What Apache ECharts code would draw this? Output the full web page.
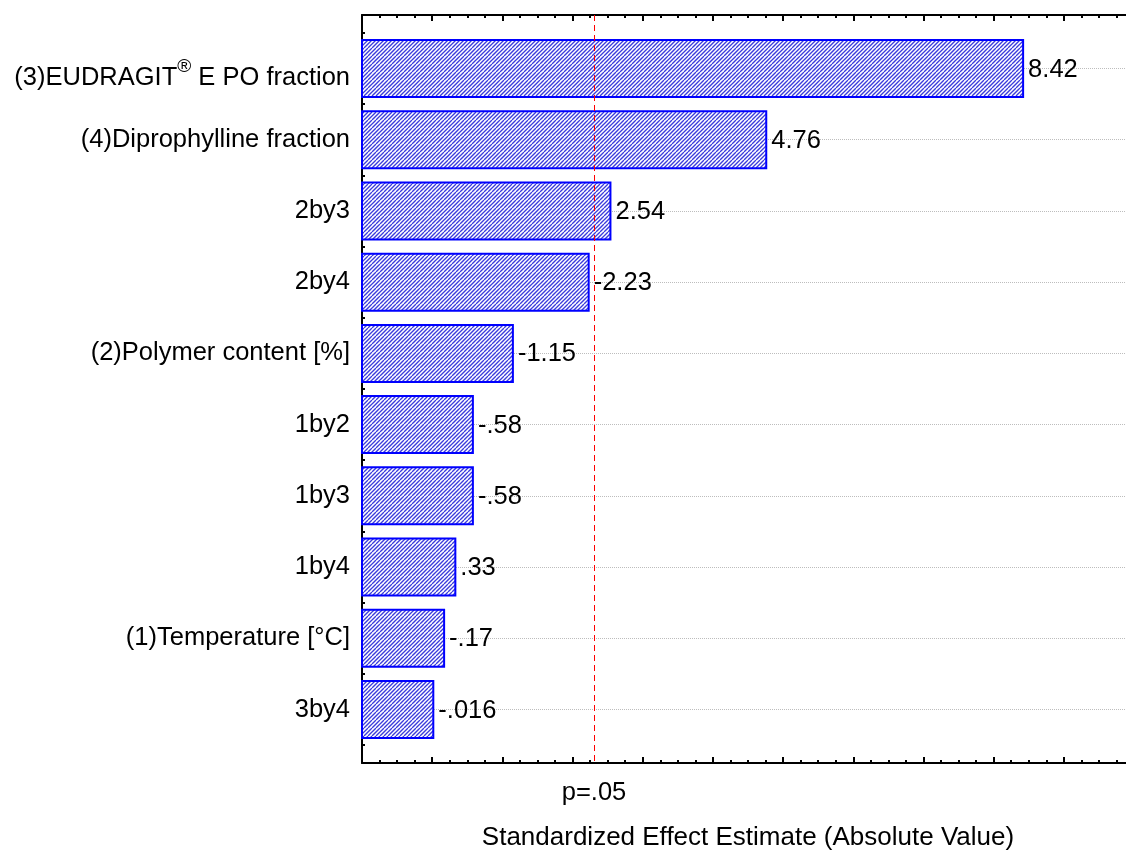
<!DOCTYPE html>
<html>
<head>
<meta charset="utf-8">
<script src="https://cdn.jsdelivr.net/npm/echarts@6/dist/echarts.min.js"></script>
<style>html,body{margin:0;padding:0;background:#fff;overflow:hidden}#c{width:1134px;height:852px}</style>
</head>
<body>
<div id="c"></div>
<script>
// ---- data ----
const CATEGORIES = [
  '(3)EUDRAGIT® E PO fraction',
  '(4)Diprophylline fraction',
  '2by3',
  '2by4',
  '(2)Polymer content [%]',
  '1by2',
  '1by3',
  '1by4',
  '(1)Temperature [°C]',
  '3by4'
];
const EFFECTS = [8.42, 4.76, 2.54, -2.23, -1.15, -0.58, -0.58, 0.33, -0.17, -0.016];
const P_CRIT = 2.306;
const P_LABEL = 'p=.05';
const X_NAME = 'Standardized Effect Estimate (Absolute Value)';

// ---- styles ----
const FONT = '"Liberation Sans", Arial, sans-serif';
const FS = 25.5;
const X_MIN = -1, X_MAX = 10;

function fmt(v) {
  let s = String(Math.abs(v));
  if (s.indexOf('0.') === 0) s = s.slice(1);
  return (v < 0 ? '-' : '') + s;
}

// hatch pattern
const pc = document.createElement('canvas');
pc.width = 8; pc.height = 8;
const g = pc.getContext('2d');
g.fillStyle = '#ffffff'; g.fillRect(0, 0, 8, 8);
g.strokeStyle = '#3b3bdc'; g.lineWidth = 1.3;
for (let k = -8; k <= 16; k += 4) {
  g.beginPath(); g.moveTo(k, 8); g.lineTo(k + 8, 0); g.stroke();
}
const pattern = { image: pc, repeat: 'repeat' };

const barData = CATEGORIES.map((c, i) => [Math.abs(EFFECTS[i]), i, EFFECTS[i]]);

function renderItem(params, api) {
  const v = api.value(0), idx = api.value(1), raw = api.value(2);
  const p0 = api.coord([X_MIN, idx]);
  const p1 = api.coord([v, idx]);
  const h = api.size([0, 1])[1] * 0.8;
  return {
    type: 'group',
    children: [
      { type: 'rect', shape: { x: p0[0], y: p0[1] - h / 2, width: p1[0] - p0[0], height: h },
        style: { fill: pattern, stroke: '#0000ff', lineWidth: 2 } },
      { type: 'text', style: { text: fmt(raw), x: p1[0] + 5, y: p1[1] + 1, verticalAlign: 'middle', align: 'left',
        fill: '#000', font: FS + 'px ' + FONT } }
    ]
  };
}

const axisLineStyle = { color: '#000', width: 2 };

const chart = echarts.init(document.getElementById('c'), null, { renderer: 'canvas' });
chart.setOption({
  animation: false,
  backgroundColor: '#fff',
  grid: [
    { left: 362, top: 15, right: 0, bottom: 89, containLabel: false, outerBoundsMode: 'none' },
    { left: 362, top: 68.5, right: 0, bottom: 142.5, containLabel: false, outerBoundsMode: 'none' }
  ],
  xAxis: [
    { gridIndex: 0, type: 'value', position: 'bottom', min: X_MIN, max: X_MAX, interval: 1,
      axisLine: { show: true, onZero: false, lineStyle: axisLineStyle },
      axisTick: { show: true, inside: true, length: 6, lineStyle: { color: '#000', width: 2 } },
      minorTick: { show: true, splitNumber: 4, length: 3, lineStyle: { color: '#000', width: 2 } },
      splitLine: { show: false },
      axisLabel: { show: true, customValues: [P_CRIT], formatter: () => P_LABEL, margin: 17,
        fontSize: FS, fontFamily: FONT, color: '#000' },
      name: X_NAME, nameLocation: 'middle', nameGap: 62,
      nameTextStyle: { fontSize: 26, fontFamily: FONT, color: '#000' } },
    { gridIndex: 0, type: 'value', position: 'top', min: X_MIN, max: X_MAX, interval: 1,
      axisLine: { show: true, onZero: false, lineStyle: axisLineStyle },
      axisTick: { show: true, inside: true, length: 6, lineStyle: { color: '#000', width: 2 } },
      minorTick: { show: true, splitNumber: 4, length: 3, lineStyle: { color: '#000', width: 2 } },
      splitLine: { show: false }, axisLabel: { show: false } },
    { gridIndex: 1, type: 'value', min: X_MIN, max: X_MAX, show: false }
  ],
  yAxis: [
    { gridIndex: 0, type: 'value', inverse: true, min: -0.75, max: 9.75, interval: 0.25,
      axisLine: { show: true, onZero: false, lineStyle: axisLineStyle },
      axisTick: { show: true, inside: true, length: 3, lineStyle: { color: '#000', width: 2 } },
      splitLine: { show: false }, axisLabel: { show: false } },
    { gridIndex: 1, type: 'category', inverse: true, boundaryGap: false, data: CATEGORIES,
      axisLine: { show: false, onZero: false },
      axisTick: { show: true, inside: true, length: 6, lineStyle: { color: '#000', width: 2 } },
      splitLine: { show: true, lineStyle: { color: '#bdbdbd', type: 'dotted', width: 1 } },
      axisLabel: {
        margin: 12, fontSize: FS, fontFamily: FONT, color: '#000',
        formatter: function (val) {
          if (val.indexOf('®') >= 0) {
            const parts = val.split('®');
            return '{a|' + parts[0] + '}{s|®}{a|' + parts[1] + '}';
          }
          return val;
        },
        rich: {
          a: { fontSize: FS, fontFamily: FONT, color: '#000', verticalAlign: 'bottom', padding: [18, 0, 0, 0] },
          s: { fontSize: 19, fontFamily: FONT, color: '#000', verticalAlign: 'bottom', padding: [0, 0, 14, 0] }
        }
      } }
  ],
  series: [
    { type: 'custom', xAxisIndex: 2, yAxisIndex: 1, data: barData, encode: { x: 0, y: 1 },
      renderItem: renderItem, clip: false, z: 3 },
    { type: 'line', xAxisIndex: 0, yAxisIndex: 0, data: [], silent: true,
      markLine: { symbol: 'none', silent: true, label: { show: false },
        lineStyle: { color: '#ff0000', type: [6, 4], width: 1 },
        data: [{ xAxis: P_CRIT }] } }
  ]
});
</script>
</body>
</html>
